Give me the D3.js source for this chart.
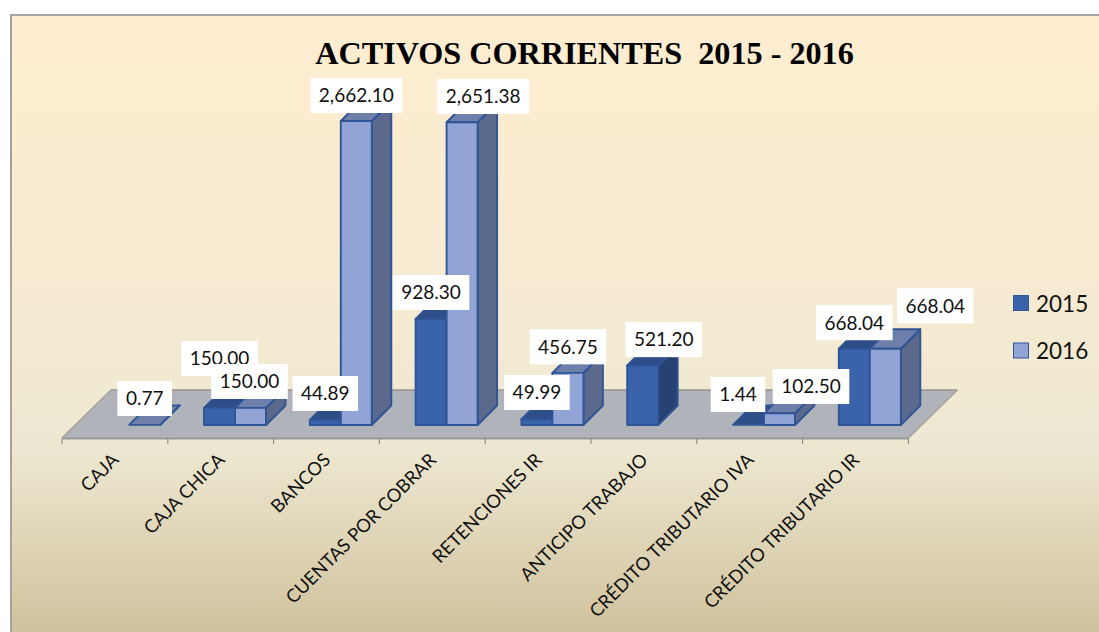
<!DOCTYPE html>
<html><head><meta charset="utf-8">
<script src="https://cdn.jsdelivr.net/npm/d3@7"></script>
<style>html,body{margin:0;padding:0;background:#fff}svg{display:block}</style>
</head><body><div id="c"></div>
<script>
const categories = ["CAJA","CAJA CHICA","BANCOS","CUENTAS POR COBRAR","RETENCIONES IR","ANTICIPO TRABAJO","CRÉDITO TRIBUTARIO IVA","CRÉDITO TRIBUTARIO IR"];
const seriesNames = ["2015","2016"];
const values2015 = [null,150.00,44.89,928.30,49.99,521.20,1.44,668.04];
const values2016 = [0.77,150.00,2662.10,2651.38,456.75,null,102.50,668.04];
const titleText = "ACTIVOS CORRIENTES  2015 - 2016";
// hand placement of the data labels relative to the top centre of their bar
const labelNudge2015 = [null,[0,-49.4],[0,-26.4],[0,-26.5],[0,-26.8],[21,-25.8],[-10.5,-30.3],[0,-26]];
const labelNudge2016 = [[0,-26.4],[-1,-26.4],[0,-25.5],[21,-25.7],[0,-26],null,[31.5,-26.8],[50,-43]];

const W=1099,H=632;
const svg=d3.select("#c").append("svg").attr("width",W).attr("height",H);
const defs=svg.append("defs");
const g=defs.append("linearGradient").attr("id","bg").attr("x1",0).attr("y1",0).attr("x2",0).attr("y2",1);
[[0,"#FEEDD0"],[0.35,"#F9ECD2"],[0.7,"#EEE8D2"],[1,"#D0C29D"]].forEach(s=>g.append("stop").attr("offset",s[0]).attr("stop-color",s[1]));
svg.append("rect").attr("x",11).attr("y",15).attr("width",W-11).attr("height",H-15).attr("fill","url(#bg)");
svg.append("path").attr("d",`M11,${H}V15H${W}`).attr("fill","none").attr("stroke","#A5A19B").attr("stroke-width",2);

const x=d3.scaleBand().domain(categories).range([62,908.4]);
const y=d3.scaleLinear().domain([0,2662.10]).range([425,121]);
const inner=d3.scaleBand().domain(seriesNames).range([36.2,36.2+62]);
const depth=19.5, floorDx=49, floorDy=48, floorY=438;

// floor
const xL=x.range()[0], xR=x.range()[1];
svg.append("path").attr("d",d3.line()([[xL,floorY],[xR,floorY],[xR+floorDx,floorY-floorDy],[xL+floorDx,floorY-floorDy]])+"Z")
  .attr("fill","#B1B3BA");
svg.append("path").attr("d",d3.line()([[xL+floorDx,floorY-floorDy],[xR+floorDx,floorY-floorDy]])).attr("stroke","#96948F").attr("stroke-width",1.5);
svg.append("path").attr("d",d3.line()([[xL+floorDx,floorY-floorDy],[xL,floorY]])).attr("stroke","#A2A29F").attr("stroke-width",1.5).attr("fill","none");
svg.append("path").attr("d",d3.line()([[xR+floorDx,floorY-floorDy],[xR,floorY]])).attr("stroke","#A2A29F").attr("stroke-width",1.5).attr("fill","none");

// axis
const axis=d3.axisBottom(x).tickSize(0).tickPadding(0);
const ax=svg.append("g").attr("transform",`translate(0,${floorY})`).call(axis);
ax.select(".domain").attr("stroke","#9A9A98").attr("stroke-width",2);
ax.selectAll(".tick text").attr("font-family","Lato").attr("font-size",18.4).attr("fill","#111")
  .attr("text-anchor","end").attr("dy",0).attr("y",0)
  .attr("transform","translate(5,23) rotate(-45)");
ax.selectAll(".bound").data(categories.concat(["end"])).enter().append("line").attr("class","bound")
  .attr("x1",(d,i)=>xL+i*x.bandwidth()).attr("x2",(d,i)=>xL+i*x.bandwidth())
  .attr("y1",0).attr("y2",6).attr("stroke","#8f8f8f").attr("stroke-width",1.2);

const palette={"2015":{front:"#3A63AC",top:"#2D4E87",side:"#264172"},"2016":{front:"#92A3D6",top:"#6E7FAA",side:"#5B6A8C"}};
const edge="#2F5597";
const series=[["2015",values2015],["2016",values2016]];
const nudges={"2015":labelNudge2015,"2016":labelNudge2016};
const line=d3.line();
const bars=svg.append("g").attr("stroke",edge).attr("stroke-width",1.9).attr("stroke-linejoin","round");
categories.forEach((c,i)=>{
  series.forEach(([name,vals])=>{
    const v=vals[i]; if(v==null) return;
    const x0=x(c)+inner(name),w=inner.bandwidth(),y0=y(0),y1=y(v),p=palette[name];
    if(name==="2016"||vals===values2015&&values2016[i]==null){
      bars.append("path").attr("d",line([[x0+w,y0],[x0+w+depth,y0-depth],[x0+w+depth,y1-depth],[x0+w,y1]])+"Z").attr("fill",p.side);
    }
    bars.append("path").attr("d",line([[x0,y1],[x0+w,y1],[x0+w+depth,y1-depth],[x0+depth,y1-depth]])+"Z").attr("fill",p.top);
    if(y0-y1>0.5) bars.append("rect").attr("x",x0).attr("y",y1).attr("width",w).attr("height",y0-y1).attr("fill",p.front);
  });
});

// data labels
const fmt=d3.format(",.2f");
const labels=svg.append("g");
series.forEach(([name,vals])=>{
  vals.forEach((v,i)=>{
    if(v==null) return;
    const cx=x(categories[i])+inner(name)+inner.bandwidth()/2+nudges[name][i][0];
    const cy=y(v)+nudges[name][i][1];
    const gl=labels.append("g");
    const r=gl.append("rect").attr("fill","#fff");
    const t=gl.append("text").text(fmt(v)).attr("x",cx).attr("y",cy+6.8).attr("text-anchor","middle")
      .attr("font-family","Lato").attr("font-size",19).attr("fill","#111");
    const tw=t.node().getComputedTextLength();
    r.attr("x",cx-tw/2-8.5).attr("y",cy-17.5).attr("width",tw+17).attr("height",35);
  });
});

// title
svg.append("text").text(titleText).attr("x",584.5).attr("y",64).attr("text-anchor","middle")
  .attr("xml:space","preserve").style("white-space","pre")
  .attr("font-family","Liberation Serif").attr("font-weight","bold").attr("font-size",32.2).attr("fill","#000");

// legend
const lg=svg.append("g");
seriesNames.forEach((n,i)=>{
  const ly=303+i*47.5;
  lg.append("rect").attr("x",1013.5).attr("y",ly-7.5).attr("width",15).attr("height",15)
    .attr("fill",palette[n].front).attr("stroke",edge).attr("stroke-width",1);
  lg.append("text").text(n).attr("x",1036).attr("y",ly+8.5).attr("font-family","Lato").attr("font-size",22.5).attr("fill","#111");
});
</script></body></html>
